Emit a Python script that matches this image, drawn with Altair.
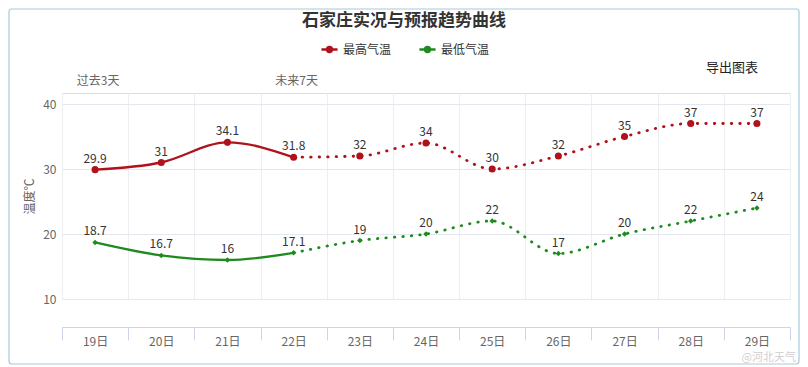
import altair as alt
import pandas as pd

days = ["19日", "20日", "21日", "22日", "23日", "24日", "25日", "26日", "27日", "28日", "29日"]
max_t = [29.9, 31, 34.1, 31.8, 32, 34, 30, 32, 35, 37, 37]
min_t = [18.7, 16.7, 16, 17.1, 19, 20, 22, 17, 20, 22, 24]
series_names = ["最高气温", "最低气温"]
n_observed = 4  # 19日-22日 observed
top_notes_day = ["19日", "22日"]
top_notes_text = ["过去3天", "未来7天"]

RED = "#B0121B"
GREEN = "#1F8A1F"
FONT = "Noto Sans CJK SC"

rows = []
for i, d in enumerate(days):
    rows.append({"day": d, "idx": i, "series": series_names[0], "value": max_t[i]})
    rows.append({"day": d, "idx": i, "series": series_names[1], "value": min_t[i]})
df = pd.DataFrame(rows)

W, H = 728, 206
x = alt.X("day:N", sort=days, scale=alt.Scale(domain=days, paddingInner=0, paddingOuter=0),
          axis=alt.Axis(title=None, orient="bottom", offset=28, tickBand="extent",
                        tickSize=13, tickColor="#ccd6eb", domainColor="#ccd6eb",
                        labelColor="#666666", labelFontSize=12, labelFont=FONT,
                        labelPadding=-4, labelAngle=0,
                        grid=True, gridColor="#eceef2"))
y = alt.Y("value:Q", scale=alt.Scale(domain=[10, 10 + H / 6.5], nice=False, zero=False),
          axis=alt.Axis(values=[10, 20, 30, 40], title="温度℃", titleFont=FONT,
                        titleFontSize=12, titleFontWeight="normal", titleColor="#666666",
                        titlePadding=6, labelColor="#666666", labelFontSize=12,
                        labelFont=FONT, labelPadding=6, ticks=False, domain=False,
                        grid=True, gridColor="#e3e8ef"))

stroke = alt.Stroke("series:N", scale=alt.Scale(domain=series_names, range=[RED, GREEN]),
                    legend=alt.Legend(title=None, orient="none", legendX=258, legendY=-53,
                                      direction="horizontal", labelFont=FONT,
                                      labelFontSize=12, labelColor="#333333",
                                      symbolType="M-1,0H1M0.3,0A0.3,0.3,0,1,1,-0.3,0A0.3,0.3,0,1,1,0.3,0",
                                      symbolSize=260, symbolStrokeWidth=2.5,
                                      columnPadding=22, labelOffset=4))

base = alt.Chart(df)
solid = base.transform_filter(alt.datum.idx < n_observed).mark_line(
    interpolate="monotone", strokeWidth=2.3).encode(x=x, y=y, stroke=stroke)
dotted = base.transform_filter(alt.datum.idx >= n_observed - 1).mark_line(
    interpolate="monotone", strokeWidth=2.8, strokeDash=[0.5, 8], strokeCap="round"
).encode(x=x, y=y, stroke=stroke)

pts_max = base.transform_filter(alt.datum.series == series_names[0]).mark_point(
    filled=True, shape="circle", size=50, color=RED, opacity=1).encode(x=x, y=y)
pts_min = base.transform_filter(alt.datum.series == series_names[1]).mark_point(
    filled=True, shape="diamond", size=30, color=GREEN, opacity=1).encode(x=x, y=y)

labels = base.mark_text(dy=-11, fontSize=12, font=FONT, color="#333333").encode(
    x=x, y=y, text=alt.Text("value:Q"))

notes = alt.Chart(pd.DataFrame({"day": top_notes_day, "note": top_notes_text})).mark_text(
    fontSize=12, font=FONT, color="#666666", dx=3).encode(
    x=alt.X("day:N", sort=days), y=alt.value(-12), text="note:N")

export_btn = alt.Chart(pd.DataFrame({"t": ["导出图表"]})).mark_text(
    fontSize=13, font=FONT, color="#222222").encode(
    x=alt.value(670), y=alt.value(-25), text="t:N")

watermark = alt.Chart(pd.DataFrame({"t": ["@河北天气"]})).mark_text(
    fontSize=11, font=FONT, color="#bbbbbb", opacity=0.7, align="right").encode(
    x=alt.value(734), y=alt.value(265), text="t:N")

frame = alt.Chart(pd.DataFrame({"a": [0]})).mark_rect(
    fill=None, stroke="#a6cbdc", strokeWidth=1.2, cornerRadius=3).encode(
    x=alt.value(-53), x2=alt.value(737), y=alt.value(-84), y2=alt.value(271))

chart = alt.layer(frame, solid, dotted, pts_max, pts_min, labels, notes, export_btn, watermark).properties(
    width=W, height=H,
    title=alt.TitleParams("石家庄实况与预报趋势曲线", anchor="middle", dx=-22, fontSize=17,
                          font=FONT, fontWeight="bold", color="#333333", offset=-22),
    autosize=alt.AutoSizeParams(type="none"),
    padding={"left": 54, "top": 85, "right": 10, "bottom": 66},
).configure_view(strokeWidth=0).configure(background="white")

chart.save("out.html", embed_options={"renderer": "svg", "actions": False})
